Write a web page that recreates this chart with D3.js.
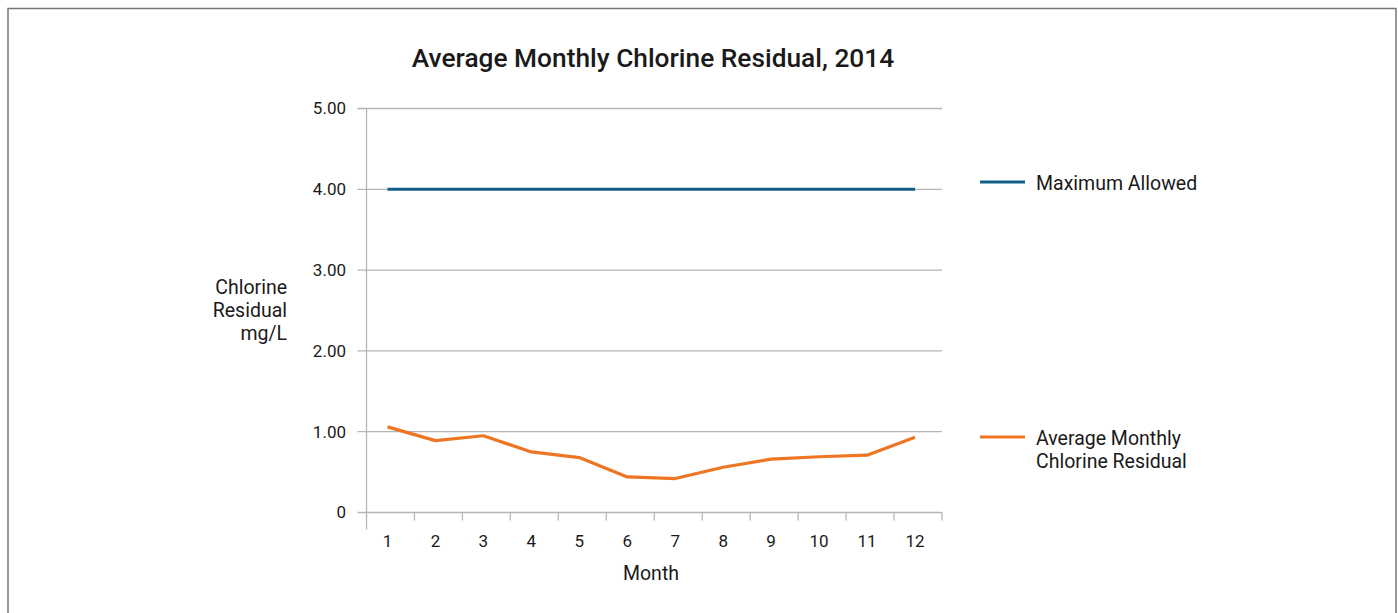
<!DOCTYPE html>
<html>
<head>
<meta charset="utf-8">
<script src="https://cdn.jsdelivr.net/npm/d3@7"></script>
<style>
  body { margin: 0; background: #fff; }
  svg text { font-family: Roboto, "Open Sans", sans-serif; fill: #1a1a1a; }
</style>
</head>
<body>
<div id="chart"></div>
<script>
// Chart data
const months = [1, 2, 3, 4, 5, 6, 7, 8, 9, 10, 11, 12];
const avgResidual = [1.06, 0.89, 0.95, 0.75, 0.68, 0.44, 0.42, 0.56, 0.66, 0.69, 0.71, 0.93];
const maxAllowed = [4, 4, 4, 4, 4, 4, 4, 4, 4, 4, 4, 4];
const yTicks = [0, 1, 2, 3, 4, 5];
const yTickLabels = ["0", "1.00", "2.00", "3.00", "4.00", "5.00"];

const width = 1398, height = 613;
const margin = { top: 108.5, bottom: 100.5, left: 366.5, right: 456 };

const svg = d3.select("#chart").append("svg")
  .attr("width", width)
  .attr("height", height);

// outer frame
svg.append("rect")
  .attr("x", 8).attr("y", 8.5)
  .attr("width", 1388).attr("height", 640)
  .attr("fill", "none")
  .attr("stroke", "#777")
  .attr("stroke-width", 1.5);

const x = d3.scaleBand()
  .domain(months)
  .range([margin.left, width - margin.right]);

const y = d3.scaleLinear()
  .domain([0, 5])
  .range([height - margin.bottom, margin.top]);

// gridlines + y tick marks
svg.append("g")
  .selectAll("line")
  .data(yTicks)
  .join("line")
    .attr("x1", margin.left - 9)
    .attr("x2", width - margin.right)
    .attr("y1", d => y(d))
    .attr("y2", d => y(d))
    .attr("stroke", "#b5b5b5")
    .attr("stroke-width", 1.3);

// y axis line
svg.append("line")
  .attr("x1", margin.left).attr("x2", margin.left)
  .attr("y1", y(5)).attr("y2", y(0) + 17)
  .attr("stroke", "#b5b5b5")
  .attr("stroke-width", 1.3);

// x tick marks at band boundaries
svg.append("g")
  .selectAll("line")
  .data(months)
  .join("line")
    .attr("x1", d => x(d) + x.bandwidth())
    .attr("x2", d => x(d) + x.bandwidth())
    .attr("y1", y(0))
    .attr("y2", y(0) + 8)
    .attr("stroke", "#b5b5b5")
    .attr("stroke-width", 1.3);

// y tick labels
svg.append("g")
  .selectAll("text")
  .data(yTicks)
  .join("text")
    .attr("x", 346)
    .attr("y", d => y(d))
    .attr("dy", "0.35em")
    .attr("text-anchor", "end")
    .attr("font-size", 17)
    .text((d, i) => yTickLabels[i]);

// x tick labels
svg.append("g")
  .selectAll("text")
  .data(months)
  .join("text")
    .attr("x", d => x(d) + x.bandwidth() / 2 - 3)
    .attr("y", 541)
    .attr("dy", "0.35em")
    .attr("text-anchor", "middle")
    .attr("font-size", 17)
    .text(d => d);

// axis titles
svg.append("text")
  .attr("x", 651).attr("y", 573)
  .attr("dy", "0.35em")
  .attr("text-anchor", "middle")
  .attr("font-size", 19.5)
  .text("Month");

const yTitle = svg.append("text")
  .attr("text-anchor", "end")
  .attr("font-size", 19.5);
["Chlorine", "Residual", "mg/L"].forEach((t, i) => {
  yTitle.append("tspan")
    .attr("x", 287)
    .attr("y", 287 + i * 23)
    .attr("dy", "0.35em")
    .text(t);
});

// chart title
svg.append("text")
  .attr("x", 653).attr("y", 58)
  .attr("dy", "0.35em")
  .attr("text-anchor", "middle")
  .attr("font-size", 26.3)
  .attr("font-weight", 500)
  .text("Average Monthly Chlorine Residual, 2014");

const line = d3.line()
  .x((d, i) => x(months[i]) + x.bandwidth() / 2 - 3)
  .y(d => y(d));

const blue = "#125f88", orange = "#ee7623";

svg.append("path")
  .datum(maxAllowed)
  .attr("d", line)
  .attr("fill", "none")
  .attr("stroke", blue)
  .attr("stroke-width", 3);

svg.append("path")
  .datum(avgResidual)
  .attr("d", line)
  .attr("fill", "none")
  .attr("stroke", orange)
  .attr("stroke-width", 3.2)
  .attr("stroke-linejoin", "round");

// legend
const legend = [
  { name: ["Maximum Allowed"], color: blue, y: 182 },
  { name: ["Average Monthly", "Chlorine Residual"], color: orange, y: 437 }
];
const lg = svg.append("g").selectAll("g").data(legend).join("g");
lg.append("line")
  .attr("x1", 980).attr("x2", 1025)
  .attr("y1", d => d.y).attr("y2", d => d.y)
  .attr("stroke", d => d.color)
  .attr("stroke-width", 3);
lg.append("text")
  .attr("font-size", 19.5)
  .each(function(d) {
    d.name.forEach((t, i) => {
      d3.select(this).append("tspan")
        .attr("x", 1036)
        .attr("y", d.y + 1 + i * 23)
        .attr("dy", "0.35em")
        .text(t);
    });
  });
</script>
</body>
</html>
